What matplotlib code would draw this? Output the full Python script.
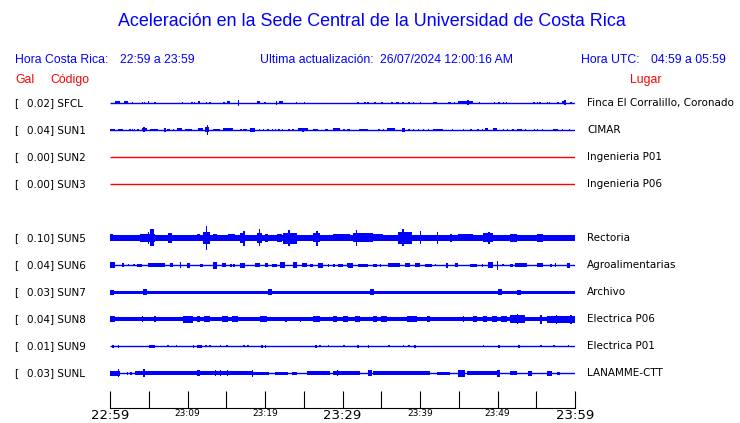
import matplotlib
matplotlib.use("Agg")
import matplotlib.pyplot as plt

# ===============================
# datos
# ===============================
codes = ["SFCL", "SUN1", "SUN2", "SUN3", "SUN5", "SUN6", "SUN7", "SUN8", "SUN9", "SUNL"]
gal = [0.02, 0.04, 0.00, 0.00, 0.10, 0.04, 0.03, 0.04, 0.01, 0.03]
places = ["Finca El Corralillo, Coronado", "CIMAR", "Ingenieria P01", "Ingenieria P06",
          "Rectoria", "Agroalimentarias", "Archivo", "Electrica P06", "Electrica P01", "LANAMME-CTT"]
slots = [0, 1, 2, 3, 5, 6, 7, 8, 9, 10]  # fila 4 vacia

tick_min = list(range(0, 61, 5))
tick_text = {0: "22:59", 10: "23:09", 20: "23:19", 30: "23:29", 40: "23:39", 50: "23:49", 60: "23:59"}

# nivel de ruido de fondo por estacion
base_amp = [0.5, 0.6, 0.0, 0.0, 3.0, 0.6, 1.5, 2.0, 0.6, 0.6]

# rafagas: (min inicio, min fin, amplitud)
bursts = {
    "SFCL": [(0.6, 1.3, 1.5), (1.8, 2.3, 1.5), (2.8, 2.8, 1), (4.1, 4.1, 1), (4.4, 4.4, 1), (4.9, 4.9, 1.5),
             (5.7, 5.7, 0.7), (9.3, 9.3, 0.7), (10.5, 10.5, 1), (10.8, 10.8, 1), (11.4, 11.6, 1.5),
             (12.4, 12.4, 1), (12.8, 12.8, 0.7), (14.6, 14.6, 0.7), (15.1, 15.5, 1.5), (16.5, 16.5, 3),
             (19.0, 19.4, 1.5), (19.9, 19.9, 1), (21.4, 21.4, 2), (21.8, 22.3, 1.5), (24.0, 24.0, 1.2),
             (25.0, 25.0, 1), (31.9, 31.9, 1.2), (32.8, 32.8, 1), (33.2, 33.2, 0.7), (34.1, 34.1, 0.7),
             (35.0, 35.0, 0.7), (36.3, 36.5, 1.3), (36.9, 37.3, 1.3), (37.7, 37.7, 1), (38.5, 38.5, 1),
             (39.1, 39.1, 0.8), (40.0, 40.0, 0.7), (41.7, 42.2, 1.3), (43.6, 44.0, 1.3), (44.4, 44.4, 1),
             (44.9, 46.8, 1.5), (46.1, 46.1, 2.5), (47.6, 47.6, 1), (49.5, 49.5, 1), (50.1, 50.1, 0.7),
             (50.7, 50.7, 1), (51.1, 51.1, 1), (54.6, 54.6, 1), (55.1, 55.1, 1), (55.4, 55.4, 0.7),
             (56.4, 56.4, 1), (56.6, 56.6, 1), (57.7, 57.7, 1), (58.3, 58.8, 1.5), (58.6, 58.6, 2.5),
             (59.4, 59.4, 1.3)],
    "SUN1": [(0.0, 0.6, 1.3), (1.0, 1.7, 1.3), (2.5, 2.5, 1), (2.8, 2.8, 1), (3.1, 3.1, 1), (3.5, 3.5, 1),
             (4.1, 4.8, 1.5), (4.3, 4.3, 2.5), (5.2, 6.2, 1.3), (7.0, 7.0, 2), (7.4, 7.7, 1.3),
             (8.1, 8.1, 1), (8.6, 9.3, 1.5), (9.7, 10.6, 1.3), (11.4, 12.0, 1.5), (12.3, 12.8, 2.5),
             (12.5, 12.5, 5), (13.3, 14.2, 1.3), (14.6, 15.9, 1.5), (16.8, 16.8, 1), (17.2, 17.7, 1),
             (18.1, 18.7, 2), (19.2, 19.2, 1), (19.7, 19.7, 1), (20.3, 20.3, 1), (20.9, 20.9, 1),
             (21.3, 21.3, 1), (21.7, 21.7, 1), (22.2, 22.2, 1), (23.0, 23.0, 1), (23.5, 23.5, 1),
             (24.3, 25.5, 1.5), (24.8, 24.8, 2), (26.2, 26.8, 1.3), (27.7, 28.1, 1.3), (28.8, 29.7, 1.5),
             (30.1, 30.1, 1), (30.6, 30.6, 1), (30.8, 30.8, 1), (32.1, 33.3, 1.3), (34.6, 34.6, 1.3),
             (35.2, 35.2, 1.3), (35.7, 36.8, 1.5), (37.7, 38.1, 2), (38.5, 38.5, 1.3), (39.1, 39.1, 1.3),
             (39.7, 39.7, 1), (40.4, 40.4, 1), (41.0, 41.0, 1), (41.7, 43.0, 1.3), (44.1, 44.1, 0.7),
             (45.5, 45.5, 1), (46.5, 46.5, 1), (47.4, 47.4, 1.3), (48.0, 48.0, 1), (48.4, 48.8, 1.5),
             (49.4, 49.9, 1.5), (50.7, 50.7, 1.3), (51.2, 51.2, 1.3), (51.9, 51.9, 1.3), (52.5, 53.2, 1.3),
             (53.5, 53.5, 1.3), (54.7, 54.7, 1.3), (55.1, 55.1, 1.3), (55.7, 55.7, 1), (57.2, 57.8, 1.3),
             (58.3, 58.3, 1), (59.2, 59.2, 1.3)],
    "SUN2": [],
    "SUN3": [],
    "SUN5": [(0.0, 0.4, 3.5), (3.9, 5.8, 4), (4.9, 4.9, 6), (5.2, 5.7, 8.5), (7.5, 8.0, 5), (11.2, 11.6, 3.5),
             (12.0, 12.9, 6), (12.4, 12.4, 12), (13.3, 13.8, 3.5), (15.2, 16.1, 3.5), (16.8, 17.4, 5),
             (17.2, 17.2, 7.5), (19.0, 19.6, 5), (19.2, 19.2, 8.5), (20.0, 20.4, 4), (21.5, 22.2, 4),
             (22.3, 24.1, 5.5), (23.0, 23.0, 8), (26.2, 27.1, 4.5), (26.6, 26.6, 7.5), (28.8, 31.0, 3.5),
             (31.4, 32.3, 4.5), (31.7, 31.7, 8), (32.3, 33.9, 4.5), (33.9, 35.2, 3.5), (37.2, 39.0, 6),
             (37.7, 37.9, 8.5), (40.0, 40.0, 6.5), (42.2, 42.2, 6), (43.9, 43.9, 4), (44.9, 46.8, 3.5),
             (48.1, 49.4, 4.5), (48.8, 48.8, 6), (51.6, 52.5, 4), (55.1, 55.9, 4)],
    "SUN6": [(0.0, 0.6, 3), (1.5, 1.8, 2), (2.3, 2.3, 1), (3.0, 3.0, 1), (3.5, 4.1, 1.5), (4.9, 7.1, 2),
             (7.7, 8.1, 2), (9.0, 9.0, 3), (9.9, 10.3, 2.5), (11.6, 12.0, 1.5), (13.3, 13.8, 3.5),
             (14.5, 15.0, 2), (15.5, 15.5, 1.5), (15.9, 15.9, 1.5), (16.8, 17.4, 2.5), (18.7, 19.4, 2),
             (20.0, 20.4, 2), (20.9, 21.5, 1.5), (21.9, 22.6, 3), (23.6, 24.1, 3), (24.8, 25.4, 2),
             (25.8, 26.2, 1.5), (26.8, 27.5, 2.5), (28.1, 28.1, 1.5), (28.8, 28.8, 1.5), (29.4, 30.1, 1.5),
             (30.6, 30.6, 2), (30.7, 31.4, 2.5), (32.0, 33.3, 1.5), (33.9, 34.5, 1.5), (34.8, 34.8, 1.5),
             (35.9, 37.4, 2), (38.1, 38.7, 2), (39.4, 40.0, 2), (40.6, 41.5, 1.5), (41.9, 41.9, 1),
             (43.4, 43.4, 2.5), (44.5, 44.9, 2), (46.5, 47.4, 1.5), (48.0, 48.0, 1.5), (48.8, 49.4, 3),
             (49.9, 49.9, 4.5), (50.6, 50.6, 1), (51.6, 52.0, 1.5), (52.3, 53.8, 2), (55.1, 55.9, 2),
             (56.8, 56.8, 1.5), (57.4, 57.4, 2), (59.0, 59.4, 2.5)],
    "SUN7": [(0.0, 0.5, 2.5), (4.3, 4.8, 3), (20.4, 20.9, 3), (33.5, 34.0, 3), (50.0, 50.6, 3),
             (52.5, 53.0, 2.5)],
    "SUN8": [(0.0, 0.6, 3), (4.1, 4.3, 3), (5.7, 5.7, 3), (9.4, 10.7, 3.5), (11.2, 11.6, 3), (12.1, 12.9, 3),
             (14.5, 15.2, 3), (15.7, 16.5, 3), (19.4, 20.3, 3), (22.6, 22.6, 2.5), (24.5, 24.5, 2.5),
             (26.2, 27.1, 3), (28.8, 29.3, 3), (30.1, 30.7, 3), (31.6, 32.3, 3), (33.9, 34.4, 3),
             (35.0, 35.7, 3), (38.3, 39.6, 3), (40.9, 41.3, 3), (45.5, 45.5, 3), (46.8, 47.4, 3),
             (48.1, 48.6, 3), (49.3, 49.9, 3), (50.5, 51.2, 3), (51.6, 53.5, 4), (52.5, 52.5, 5),
             (55.5, 55.5, 4.5), (56.4, 60.0, 3.5), (57.5, 57.5, 4.5), (59.4, 59.4, 4.5)],
    "SUN9": [(0.3, 0.3, 1.5), (1.0, 1.0, 1.5), (5.0, 5.8, 1.5), (7.4, 7.4, 1), (8.5, 8.5, 1), (10.7, 10.7, 1.5),
             (11.2, 11.9, 1.5), (12.3, 12.3, 1), (12.8, 12.8, 1), (14.2, 14.2, 1), (15.0, 15.0, 1),
             (17.2, 17.2, 1), (17.7, 17.7, 1), (19.5, 19.5, 1.5), (20.0, 20.0, 1.5), (26.5, 26.5, 1.5),
             (27.0, 27.0, 1), (28.1, 28.1, 1), (30.1, 30.1, 1), (31.9, 31.9, 1.5), (33.3, 33.3, 1.5),
             (35.9, 35.9, 1), (37.8, 37.8, 1), (38.5, 38.5, 1), (39.2, 39.5, 1.5), (48.1, 48.1, 1),
             (50.1, 50.1, 1.5), (52.6, 52.9, 1.5), (55.5, 55.5, 1), (57.2, 57.2, 1), (59.1, 59.1, 1)],
    "SUNL": [(0.0, 1.3, 2.5), (1.0, 1.0, 4), (2.2, 2.2, 1.5), (2.6, 2.6, 1.5), (3.2, 5.5, 2), (4.3, 4.3, 4),
             (5.5, 11.2, 1.7), (11.2, 11.6, 3), (11.6, 18.5, 2), (13.5, 13.5, 3), (14.2, 14.2, 3),
             (15.1, 15.1, 3), (18.3, 18.3, 3.5), (18.5, 20.5, 1.5), (21.3, 23.0, 1.5), (23.5, 24.1, 1.5),
             (25.4, 28.4, 2), (28.8, 31.0, 2), (29.3, 29.3, 3), (31.0, 32.3, 2), (33.3, 33.8, 3),
             (33.9, 41.3, 2), (42.2, 43.9, 1.5), (44.9, 45.8, 3.5), (46.1, 49.9, 2), (49.9, 50.3, 3.5),
             (51.6, 52.5, 2), (53.9, 54.5, 2.5), (56.4, 57.0, 2.5), (57.7, 58.1, 1.5)],
}

# ===============================
# figura
# ===============================
W, H = 740, 423
fig = plt.figure(figsize=(W / 100, H / 100), dpi=100)

BLUE = "#0000ff"
RED = "#ff0000"
row_px = 27.0
k = 1.0 / row_px  # amplitud -> unidades de fila

ax = fig.add_axes([110 / W, 15 / H, 465 / W, 320 / H])
ax.set_xlim(0, 60)
ax.set_ylim((408 - 103) / row_px, (88 - 103) / row_px)

for code, g, b, r in zip(codes, gal, base_amp, slots):
    color = RED if g == 0 else BLUE
    if b > 1.0:
        ax.fill_between([0, 60], r - b * k, r + b * k, color=color, linewidth=0)
    else:
        ax.plot([0, 60], [r, r], color=color, linewidth=1.0, solid_capstyle="butt")
    for t0, t1, a in bursts[code]:
        w = max(t1 - t0, 0.18)
        ax.bar(t0, 2 * a * k, width=w, bottom=r - a * k, align="edge", color=color, linewidth=0)

for s in ["left", "right", "top"]:
    ax.spines[s].set_visible(False)
ax.spines["bottom"].set_linewidth(0.8)
ax.set_yticks([])
ax.set_xticks(tick_min)
ax.set_xticklabels([tick_text.get(t, "") for t in tick_min])
ax.tick_params(axis="x", direction="in", length=12, width=0.8, pad=1)
for t, lab in zip(tick_min, ax.get_xticklabels()):
    lab.set_fontsize(9.5 if t % 30 == 0 else 6.5)
    lab.set_family("DejaVu Sans")


def put(x, y, s, **kw):
    fig.text(x / W, 1 - y / H, s, va="center", **kw)


hdr = dict(family="Liberation Sans", color=BLUE)
put(372, 22, "Aceleración en la Sede Central de la Universidad de Costa Rica", ha="center", fontsize=12.9, **hdr)
put(15, 60, "Hora Costa Rica:", fontsize=8.8, **hdr)
put(120, 60, "22:59 a 23:59", fontsize=8.8, **hdr)
put(260, 60, "Ultima actualización:", fontsize=8.8, **hdr)
put(380, 60, "26/07/2024 12:00:16 AM", fontsize=8.8, **hdr)
put(581, 60, "Hora UTC:", fontsize=8.8, **hdr)
put(651, 60, "04:59 a 05:59", fontsize=8.8, **hdr)
put(15, 80, "Gal", fontsize=8.8, family="Liberation Sans", color=RED)
put(50, 80, "Código", fontsize=8.8, family="Liberation Sans", color=RED)
put(630, 80, "Lugar", fontsize=8.8, family="Liberation Sans", color=RED)

for code, g, place, r in zip(codes, gal, places, slots):
    y = 103 + r * row_px
    put(14, y, "[", fontsize=7.5, color="black")
    put(27, y, f"{g:.2f}] {code}", fontsize=7.5, color="black")
    put(587, y, place, fontsize=7.5, color="black")

fig.savefig("out.png", dpi=100)
